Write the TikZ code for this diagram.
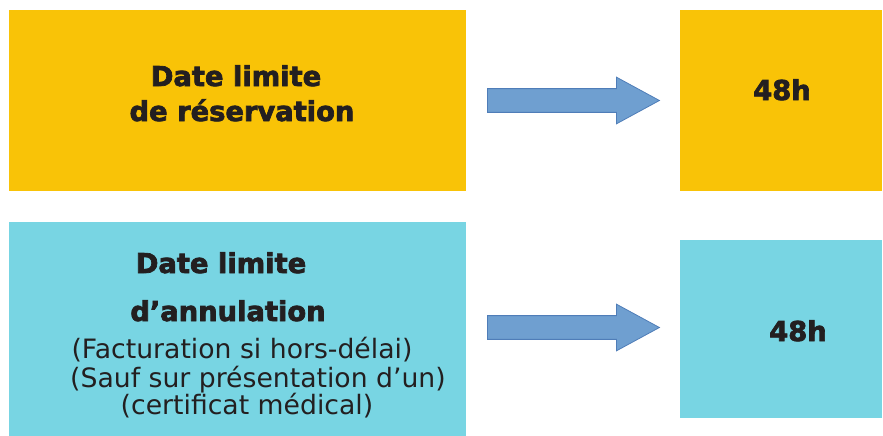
\documentclass[tikz,border=0pt]{standalone}
\usepackage{fontspec}
\setmainfont{DejaVu Sans}
\newfontfamily\lourd[FakeBold=2.6]{DejaVu Sans Bold}
\usetikzlibrary{shapes.arrows}

\definecolor{jaune}{HTML}{F9C307}
\definecolor{cyan}{HTML}{78D5E3}
\definecolor{bleu}{HTML}{6F9FD0}
\definecolor{bleubord}{HTML}{4F7DB8}
\definecolor{texte}{HTML}{231F20}

\tikzstyle{rect} = [rectangle, anchor=north west, inner sep=0pt]
\tikzstyle{titre} = [anchor=base, inner sep=0pt, text=texte, font=\fontsize{20.5}{24}\selectfont\lourd]
\tikzstyle{note} = [anchor=base, inner sep=0pt, text=texte, font=\fontsize{20}{23}\selectfont]
\tikzstyle{fleche} = [single arrow, fill=bleu, draw=bleubord, line width=0.6pt, minimum height=129pt, minimum width=0pt, inner xsep=0pt, inner ysep=8.6pt, single arrow head extend=8.6pt, single arrow tip angle=57, anchor=west]

\begin{document}
\begin{tikzpicture}[x=0.75pt, y=-0.75pt]

\useasboundingbox (0,0) rectangle (883,436);

% ligne du haut
\node (resa) [rect, fill=jaune, minimum width=342.75pt, minimum height=135.75pt] at (9,10) {};
\node (resadelai) [rect, fill=jaune, minimum width=151.5pt, minimum height=135.75pt] at (680,10) {};
\node (resaarrow) [fleche] at (487,100.5) {};

\node (resat1) [titre] at (236,86) {Date limite};
\node (resat2) [titre] at (242,121) {de réservation};
\node (resah) [titre] at (782,100) {48h};

% ligne du bas
\node (annul) [rect, fill=cyan, minimum width=342.75pt, minimum height=160.5pt] at (9,222) {};
\node (annuldelai) [rect, fill=cyan, minimum width=151.5pt, minimum height=133.5pt] at (680,240) {};
\node (annularrow) [fleche] at (487,327.5) {};

\node (annult1) [titre] at (221,273) {Date limite};
\node (annult2) [titre] at (228,321) {d’annulation};
\node (annuln1) [note] at (242,358) {(Facturation si hors-délai)};
\node (annuln2) [note] at (258,387) {(Sauf sur présentation d’un)};
\node (annuln3) [note] at (247,414) {(certificat médical)};
\node (annulh) [titre] at (798,341) {48h};

\end{tikzpicture}
\end{document}
